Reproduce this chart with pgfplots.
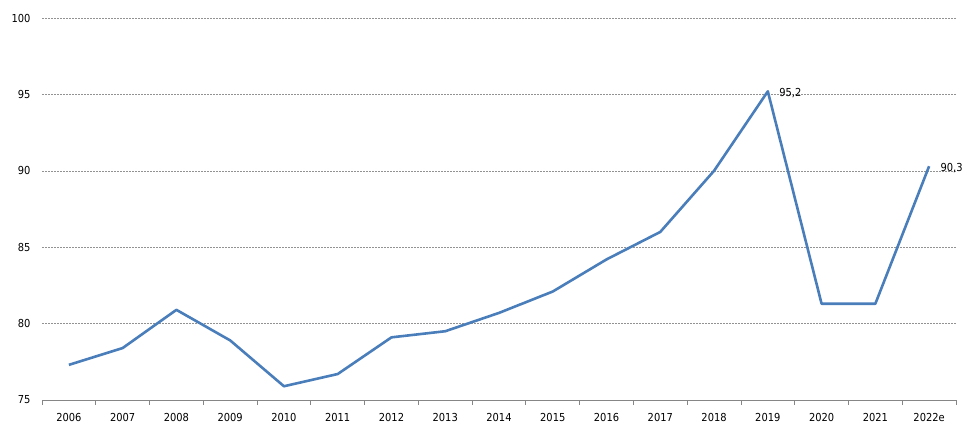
\documentclass[border=0pt]{standalone}
\usepackage{pgfplots}
\pgfplotsset{compat=1.18}
\usepackage{fontspec}
\setmainfont{DejaVu Sans Condensed}
\definecolor{lineblue}{RGB}{74,126,187}
\definecolor{gridgray}{RGB}{134,134,134}
\begin{document}
\begin{tikzpicture}[x=1pt,y=1pt]
\useasboundingbox (0,0) rectangle (970,442);
\begin{axis}[
  at={(42pt,42pt)}, anchor=south west,
  scale only axis, width=914pt, height=382pt,
  xmin=-0.5, xmax=16.5, ymin=75, ymax=100,
  axis x line*=bottom, axis y line*=left,
  y axis line style={draw=none},
  x axis line style={draw=gridgray, line width=0.8pt, -},
  xtick={0,...,16},
  xticklabels={2006,2007,2008,2009,2010,2011,2012,2013,2014,2015,2016,2017,2018,2019,2020,2021,2022e},
  minor xtick={-0.5,0.5,...,16.5},
  major tick length=0pt,
  minor tick length=5pt,
  tick align=outside,
  minor x tick style={draw=gridgray, line width=0.8pt},
  ytick={75,80,...,100},
  ytick style={draw=none},
  ymajorgrids,
  major grid style={draw=gridgray!90, line width=0.4pt, dash pattern=on 2pt off 1pt},
  /pgf/number format/assume math mode=true,
  tick label style={font=\fontsize{11}{13}\selectfont, text=black},
  xticklabel style={yshift=-10pt},
  yticklabel style={xshift=-8pt},
  clip=false,
]
\addplot[color=lineblue, line width=2.6pt, line join=round] coordinates {
 (0,77.3) (1,78.4) (2,80.9) (3,78.9) (4,75.9) (5,76.7) (6,79.1) (7,79.5)
 (8,80.7) (9,82.1) (10,84.2) (11,86.0) (12,90.0) (13,95.2) (14,81.3)
 (15,81.3) (16,90.3)
};
\node[anchor=west, font=\fontsize{11}{13}\selectfont] at (axis cs:13,95.2) [xshift=8pt,yshift=-1.5pt] {95,2};
\node[anchor=west, font=\fontsize{11}{13}\selectfont] at (axis cs:16,90.3) [xshift=8pt,yshift=-1.5pt] {90,3};
\end{axis}
\end{tikzpicture}
\end{document}
